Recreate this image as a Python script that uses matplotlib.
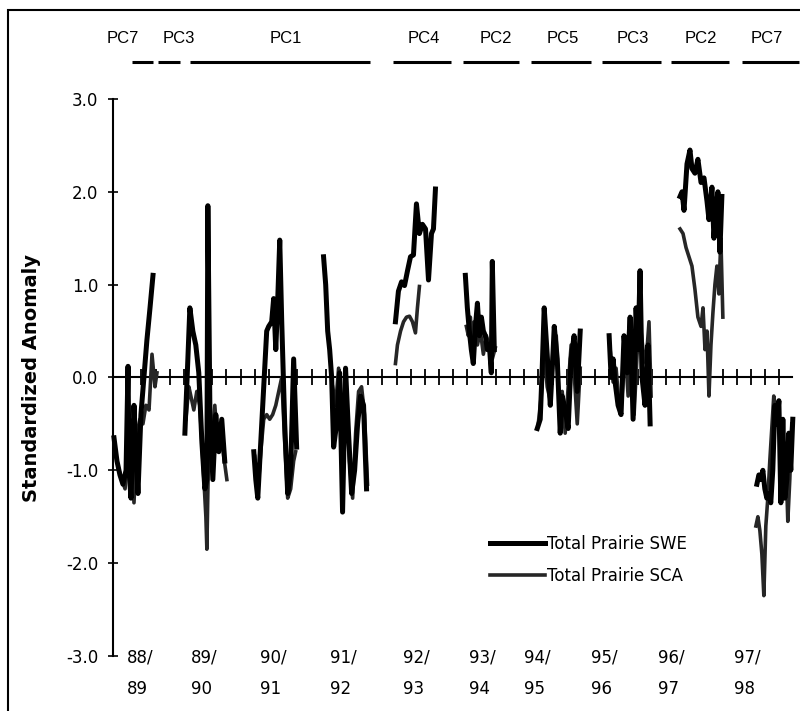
import matplotlib
matplotlib.use('Agg')
import matplotlib.pyplot as plt
from matplotlib.patches import Rectangle

# x positions are in axis tick units (one minor tick = 1 unit)
swe_x = [
    [0.07, 0.28, 0.49, 0.70, 0.92, 1.06, 1.13, 1.27, 1.48, 1.62, 1.76, 1.97, 2.18, 2.39, 2.61, 2.82],
    [5.07, 5.28, 5.42, 5.63, 5.84, 6.05, 6.27, 6.48, 6.62, 6.69, 6.83, 7.04, 7.25, 7.46, 7.67, 7.88],
    [9.93, 10.07, 10.21, 10.42, 10.63, 10.84, 10.98, 11.19, 11.33, 11.48, 11.62, 11.76, 11.90, 12.11, 12.32, 12.53, 12.74, 12.95],
    [14.85, 15.00, 15.14, 15.28, 15.42, 15.56, 15.77, 15.98, 16.19, 16.40, 16.61, 16.83, 17.04, 17.25, 17.46, 17.67, 17.88],
    [19.92, 20.13, 20.35, 20.56, 20.77, 20.98, 21.19, 21.40, 21.61, 21.82, 22.04, 22.25, 22.46, 22.60, 22.74],
    [24.85, 24.99, 25.13, 25.27, 25.41, 25.56, 25.70, 25.84, 25.98, 26.12, 26.26, 26.40, 26.54, 26.68, 26.75, 26.89],
    [29.92, 30.13, 30.27, 30.41, 30.62, 30.84, 30.98, 31.12, 31.33, 31.54, 31.68, 31.89, 32.10, 32.31, 32.52, 32.74, 32.95],
    [34.99, 35.13, 35.27, 35.41, 35.62, 35.83, 36.04, 36.26, 36.47, 36.68, 36.89, 37.03, 37.17, 37.31, 37.52, 37.73, 37.88],
    [39.99, 40.13, 40.27, 40.48, 40.69, 40.83, 41.04, 41.25, 41.47, 41.68, 41.89, 42.03, 42.24, 42.38, 42.52, 42.66, 42.80, 42.94],
    [45.41, 45.55, 45.69, 45.83, 45.97, 46.11, 46.25, 46.39, 46.53, 46.68, 46.82, 46.96, 47.10, 47.24, 47.38, 47.52, 47.66, 47.80, 47.94],
]
swe_y = [
    [-0.65, -0.9, -1.05, -1.15, -1.0, 0.12, -1.0, -1.3, -0.3, -0.8, -1.25, -0.4, 0.0, 0.4, 0.75, 1.1],
    [-0.6, 0.2, 0.75, 0.5, 0.35, 0.05, -0.7, -1.2, -1.1, 1.85, -0.3, -1.1, -0.4, -0.8, -0.45, -0.9],
    [-0.8, -1.1, -1.3, -0.7, -0.1, 0.5, 0.55, 0.6, 0.85, 0.3, 0.85, 1.48, 0.6, -0.5, -1.25, -1.0, 0.2, -0.75],
    [1.3, 1.0, 0.5, 0.3, 0.0, -0.75, -0.5, 0.05, -1.45, 0.1, -0.6, -1.25, -1.0, -0.5, -0.2, -0.3, -1.2],
    [0.6, 0.93, 1.03, 0.99, 1.15, 1.3, 1.32, 1.87, 1.55, 1.65, 1.6, 1.05, 1.55, 1.6, 2.03],
    [1.1, 0.75, 0.5, 0.3, 0.15, 0.55, 0.8, 0.45, 0.65, 0.5, 0.45, 0.3, 0.35, 0.05, 1.25, 0.3],
    [-0.55, -0.45, 0.1, 0.75, 0.25, -0.3, 0.1, 0.55, 0.2, -0.6, -0.2, -0.35, -0.55, 0.2, 0.45, -0.15, 0.5],
    [0.45, 0.0, 0.2, -0.05, -0.3, -0.4, 0.45, 0.05, 0.65, -0.45, 0.75, 0.3, 1.15, 0.0, -0.3, 0.35, -0.5],
    [1.95, 2.0, 1.8, 2.3, 2.45, 2.25, 2.2, 2.35, 2.1, 2.15, 1.9, 1.7, 2.05, 1.5, 1.8, 2.0, 1.35, 1.95],
    [-1.15, -1.05, -1.1, -1.0, -1.2, -1.3, -1.25, -1.35, -1.0, -0.3, -0.5, -0.25, -1.35, -0.45, -1.3, -1.1, -0.6, -1.0, -0.45],
]
sca_x = [
    [0.07, 0.21, 0.42, 0.63, 0.85, 1.06, 1.27, 1.48, 1.69, 1.90, 2.11, 2.32, 2.54, 2.75, 2.96, 3.10],
    [5.14, 5.35, 5.49, 5.70, 5.91, 6.12, 6.34, 6.55, 6.62, 6.76, 6.97, 7.18, 7.39, 7.60, 7.81, 8.03],
    [10.00, 10.21, 10.42, 10.63, 10.84, 11.05, 11.26, 11.48, 11.69, 11.90, 12.11, 12.32, 12.53, 12.74, 12.88],
    [15.49, 15.70, 15.91, 16.05, 16.26, 16.47, 16.68, 16.90, 17.11, 17.32, 17.53, 17.74, 17.95],
    [19.92, 20.06, 20.28, 20.49, 20.70, 20.91, 21.12, 21.33, 21.47, 21.61],
    [24.92, 25.06, 25.20, 25.34, 25.48, 25.70, 25.91, 26.12, 26.33, 26.54, 26.75, 26.96],
    [29.99, 30.20, 30.41, 30.62, 30.84, 31.05, 31.26, 31.47, 31.68, 31.89, 32.10, 32.31, 32.52, 32.74, 32.95],
    [35.06, 35.27, 35.48, 35.69, 35.90, 36.12, 36.33, 36.54, 36.75, 36.96, 37.17, 37.38, 37.59, 37.80, 37.95],
    [39.99, 40.20, 40.41, 40.62, 40.83, 41.04, 41.25, 41.47, 41.61, 41.75, 41.89, 42.03, 42.17, 42.31, 42.45, 42.59, 42.73, 42.87, 43.01],
    [45.34, 45.48, 45.62, 45.76, 45.90, 46.04, 46.18, 46.32, 46.46, 46.60, 46.75, 46.89, 47.03, 47.17, 47.31, 47.45, 47.59, 47.73, 47.87],
]
sca_y = [
    [-0.7, -0.85, -1.0, -1.1, -1.2, -0.8, -0.75, -1.35, -0.6, -0.45, -0.5, -0.3, -0.35, 0.25, -0.1, 0.05],
    [-0.45, -0.1, -0.2, -0.35, -0.15, -0.3, -0.9, -1.5, -1.85, -0.6, -0.9, -0.3, -0.75, -0.5, -0.85, -1.1],
    [-0.85, -1.25, -0.8, -0.45, -0.4, -0.45, -0.4, -0.3, -0.15, 0.0, -0.7, -1.3, -1.2, -0.9, -0.8],
    [-0.1, -0.3, 0.1, -0.5, -0.9, -0.2, -0.9, -1.3, -0.6, -0.15, -0.1, -0.4, -1.15],
    [0.15, 0.35, 0.5, 0.6, 0.65, 0.66, 0.6, 0.48, 0.75, 0.98],
    [0.55, 0.45, 0.65, 0.4, 0.6, 0.35, 0.5, 0.25, 0.45, 0.35, 0.2, 0.32],
    [-0.5, -0.2, 0.3, -0.1, -0.25, 0.35, 0.45, -0.3, -0.15, -0.6, -0.1, 0.35, 0.05, -0.5, 0.1],
    [0.3, -0.05, 0.1, -0.3, -0.2, 0.3, -0.2, 0.4, -0.4, 0.25, 0.6, 0.3, 0.15, 0.6, -0.2],
    [1.6, 1.55, 1.4, 1.3, 1.2, 0.95, 0.65, 0.55, 0.75, 0.3, 0.5, -0.2, 0.35, 0.7, 1.0, 1.2, 0.9, 1.5, 0.65],
    [-1.6, -1.5, -1.65, -1.9, -2.35, -1.6, -1.3, -0.9, -0.55, -0.2, -0.4, -0.35, -0.6, -1.2, -1.0, -0.85, -1.55, -1.1, -0.5],
]

season_labels = ['88/\n89', '89/\n90', '90/\n91', '91/\n92', '92/\n93',
                 '93/\n94', '94/\n95', '95/\n96', '96/\n97', '97/\n98']
season_pos = [0.99, 5.49, 10.35, 15.28, 20.42, 25.13, 29.00, 33.72, 38.44, 43.80]

pc_labels = ['PC7', 'PC3', 'PC1', 'PC4', 'PC2', 'PC5', 'PC3', 'PC2', 'PC7']
pc_label_pos = [0.70, 4.65, 12.18, 21.90, 26.97, 31.69, 36.69, 41.48, 46.13]
pc_start = [1.34, 3.17, 5.42, 19.72, 24.65, 29.51, 34.51, 39.37, 44.37]
pc_end = [2.82, 4.72, 18.10, 23.87, 28.66, 33.73, 38.66, 43.45, 48.40]

fig = plt.figure(figsize=(8, 7.11), dpi=100)
ax = fig.add_axes([0.14125, 0.0774, 0.849, 0.7834])

for i in range(len(swe_x)):
    ax.plot(sca_x[i], sca_y[i], color='#262626', lw=2.6, clip_on=False,
            label='Total Prairie SCA' if i == 0 else None, zorder=3)
    ax.plot(swe_x[i], swe_y[i], color='black', lw=3.6, clip_on=False,
            label='Total Prairie SWE' if i == 0 else None, zorder=4)

ax.set_xlim(0, 47.9)
ax.set_ylim(-3, 3)
ax.spines['top'].set_visible(False)
ax.spines['right'].set_visible(False)
ax.spines['bottom'].set_position(('data', 0))
ax.spines['left'].set_linewidth(1.5)
ax.spines['bottom'].set_linewidth(1.5)

ax.set_xticks(range(0, 48))
ax.tick_params(axis='x', direction='inout', length=11, width=1.3, labelbottom=False)
ax.set_yticks([-3, -2, -1, 0, 1, 2, 3])
ax.set_yticklabels(['-3.0', '-2.0', '-1.0', '0.0', '1.0', '2.0', '3.0'], fontsize=12)
ax.tick_params(axis='y', direction='inout', length=7, width=1.2, pad=7)

for lab, pos in zip(season_labels, season_pos):
    ax.text(pos, -2.92, lab, ha='left', va='top', fontsize=12, linespacing=1.95,
            clip_on=False)

for lab, pos in zip(pc_labels, pc_label_pos):
    ax.text(pos, 3.65, lab, ha='center', va='center', fontsize=12,
            family='Liberation Sans', clip_on=False)
for s, e in zip(pc_start, pc_end):
    ax.plot([s, e], [3.40, 3.40], color='black', lw=2.2, clip_on=False,
            solid_capstyle='butt')

handles, labels = ax.get_legend_handles_labels()
order = [labels.index('Total Prairie SWE'), labels.index('Total Prairie SCA')]
ax.legend([handles[k] for k in order], [labels[k] for k in order],
          loc='upper left', bbox_to_anchor=(0.555, 0.218), frameon=False,
          fontsize=12, handlelength=3.3, handletextpad=0.1, labelspacing=0.85,
          borderpad=0, borderaxespad=0)

fig.text(0.04, 0.468, 'Standardized Anomaly', rotation=90, ha='center', va='center',
         fontsize=14, fontweight='bold')

fig.add_artist(Rectangle((0.01, -0.1), 1.2, 1.086, transform=fig.transFigure,
                         fill=False, lw=1.5, color='black'))

fig.savefig('out.png', dpi=100)
